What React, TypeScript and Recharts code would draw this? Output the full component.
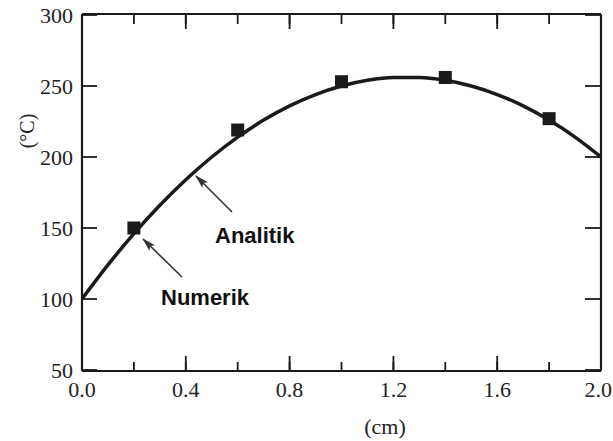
import { ComposedChart, Line, Scatter, XAxis, YAxis } from 'recharts'

// analytic solution, every 0.1 cm
const xCm = [0, 0.1, 0.2, 0.3, 0.4, 0.5, 0.6, 0.7, 0.8, 0.9, 1.0, 1.1, 1.2, 1.3, 1.4, 1.5, 1.6, 1.7, 1.8, 1.9, 2.0]
const tAnalitik = [100, 124, 146, 166, 184, 200, 214, 226, 236, 244, 250, 254, 256, 256, 254, 250, 244, 236, 226, 214, 200]

// numerical points (squares)
const xNumerik = [0.2, 0.6, 1.0, 1.4, 1.8]
const tNumerik = [150, 219, 253, 256, 227]

const xMajor = [0, 0.4, 0.8, 1.2, 1.6, 2.0]
const xMinor = [0, 0.2, 0.4, 0.6, 0.8, 1.0, 1.2, 1.4, 1.6, 1.8, 2.0]
const yTicks = [50, 100, 150, 200, 250, 300]

const analitik = xCm.map((x, i) => ({ x, t: tAnalitik[i] }))
const numerik = xNumerik.map((x, i) => ({ x, t: tNumerik[i] }))

const ink = '#1a1a1a'
const serif = '"Liberation Serif", "Times New Roman", serif'
const sans = '"Liberation Sans", Arial, sans-serif'
const frame = { stroke: ink, strokeWidth: 2.2 }
const tickStroke = { stroke: ink, strokeWidth: 1.8 }

function BottomLabel(props: any) {
  const { x, y, payload } = props
  const v = payload.value as number
  const last = v === 2
  return (
    <text
      x={last ? x + 11 : x}
      y={y + 26}
      textAnchor={last ? 'end' : 'middle'}
      fontFamily={serif}
      fontSize={22}
      fill="#222"
    >
      {v.toFixed(1)}
    </text>
  )
}

function LeftLabel(props: any) {
  const { x, y, payload } = props
  return (
    <text x={x - 9} y={y + 8} textAnchor="end" fontFamily={serif} fontSize={22} fill="#222">
      {payload.value}
    </text>
  )
}

// tick={false} also drops the tick lines, so the bare axes get an empty label
const NoLabel = () => <g />

function Square(props: any) {
  const { cx, cy } = props
  return <rect x={cx - 6.5} y={cy - 6.5} width={13} height={13} fill={ink} />
}

const xCommon = {
  dataKey: 'x',
  type: 'number' as const,
  domain: [0, 2],
  interval: 0,
  allowDataOverflow: true,
}

const yCommon = {
  type: 'number' as const,
  domain: [50, 300],
  ticks: yTicks,
  interval: 0,
  allowDataOverflow: true,
}

export default function App() {
  return (
    <div style={{ position: 'absolute', left: 0, top: 0, width: 613, height: 441, background: '#fff' }}>
      <ComposedChart width={613} height={441} margin={{ top: 13, right: 11, bottom: 40, left: 22 }}>
        {/* minor 0.2 ticks sit next to the plot, the framed axis with labels outside it */}
        <XAxis {...xCommon} ticks={xMinor} height={1} tickSize={-8} tick={NoLabel} tickLine={tickStroke} axisLine={false} />
        <XAxis
          {...xCommon}
          xAxisId="main"
          ticks={xMajor}
          height={30}
          tickSize={-15}
          tickMargin={15}
          tickLine={tickStroke}
          axisLine={frame}
          tick={BottomLabel}
        />
        <XAxis {...xCommon} xAxisId="tminor" orientation="top" ticks={xMinor} height={1} tickSize={-9} tick={NoLabel} tickLine={tickStroke} axisLine={false} />
        <XAxis {...xCommon} xAxisId="top" orientation="top" ticks={xMajor} height={1} tickSize={-15} tick={NoLabel} tickLine={tickStroke} axisLine={frame} />
        <YAxis
          {...yCommon}
          width={60}
          tickSize={-15}
          tickMargin={15}
          tickLine={tickStroke}
          axisLine={frame}
          tick={LeftLabel}
        />
        <YAxis {...yCommon} yAxisId="right" orientation="right" width={1} tickSize={-16} tick={NoLabel} tickLine={tickStroke} axisLine={frame} />
        <Line
          data={analitik}
          dataKey="t"
          type="monotone"
          stroke={ink}
          strokeWidth={3.5}
          dot={false}
          activeDot={false}
          isAnimationActive={false}
        />
        <Scatter data={numerik} dataKey="t" shape={Square} isAnimationActive={false} />
      </ComposedChart>

      <svg width={613} height={441} style={{ position: 'absolute', left: 0, top: 0, pointerEvents: 'none' }}>
        <defs>
          <marker id="ah" markerUnits="userSpaceOnUse" markerWidth={14} markerHeight={8} refX={13} refY={4} orient="auto">
            <path d="M0,0 L14,4 L0,8 L3,4 z" fill="#333" />
          </marker>
        </defs>
        <text
          x={27}
          y={131}
          transform="rotate(-90 27 131)"
          textAnchor="middle"
          dominantBaseline="central"
          fontFamily={serif}
          fontSize={20}
          fill="#222"
        >
          (°C)
        </text>
        <text x={385} y={434} textAnchor="middle" fontFamily={serif} fontSize={22} fill="#222">
          (cm)
        </text>
        <line x1={232} y1={212} x2={196} y2={176} stroke="#333" strokeWidth={1.6} markerEnd="url(#ah)" />
        <line x1={182} y1={277} x2={143} y2={239} stroke="#333" strokeWidth={1.6} markerEnd="url(#ah)" />
        <text x={215} y={243} fontFamily={sans} fontWeight="bold" fontSize={22} fill="#111">
          Analitik
        </text>
        <text x={161} y={305} fontFamily={sans} fontWeight="bold" fontSize={22} fill="#111">
          Numerik
        </text>
      </svg>
    </div>
  )
}
